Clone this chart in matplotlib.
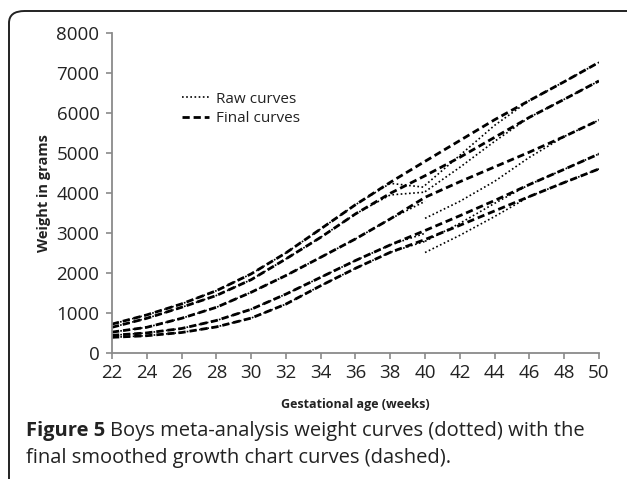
import matplotlib
matplotlib.use("Agg")
import matplotlib.pyplot as plt
from matplotlib.patches import FancyBboxPatch

# gestational age (weeks)
weeks = [22, 24, 26, 28, 30, 32, 34, 36, 38, 40, 42, 44, 46, 48, 50]

# final smoothed curves (dashed), grams
final_p97 = [730, 960, 1235, 1565, 1985, 2510, 3110, 3715, 4275, 4800, 5320, 5840, 6320, 6790, 7275]
final_p90 = [650, 875, 1150, 1445, 1840, 2360, 2900, 3485, 4000, 4440, 4900, 5400, 5900, 6350, 6810]
final_p50 = [530, 650, 875, 1150, 1525, 1945, 2400, 2860, 3360, 3900, 4290, 4660, 5030, 5420, 5830]
final_p10 = [450, 510, 620, 820, 1100, 1480, 1900, 2320, 2710, 3070, 3440, 3820, 4220, 4600, 4985]
final_p3 = [400, 440, 520, 660, 880, 1230, 1690, 2125, 2525, 2845, 3200, 3560, 3920, 4270, 4610]

# raw meta-analysis curves (dotted), preterm part
raw_pre_weeks = [22, 24, 26, 28, 30, 32, 34, 36, 38, 40]
raw_pre_p97 = [730, 960, 1235, 1565, 1985, 2510, 3110, 3715, 4250, 4150]
raw_pre_p90 = [650, 875, 1150, 1445, 1840, 2360, 2900, 3485, 3960, 4030]
raw_pre_p50 = [530, 650, 875, 1150, 1525, 1945, 2400, 2860, 3360, 3800]
raw_pre_p10 = [450, 510, 620, 820, 1100, 1480, 1900, 2320, 2710, 3000]
raw_pre_p3 = [400, 440, 520, 660, 880, 1230, 1690, 2125, 2525, 2800]

# raw curves after term
raw_post_weeks = [40, 42, 44, 46, 48, 50]
raw_post_p97 = [4200, 4950, 5700, 6320, 6790, 7275]
raw_post_p90 = [4040, 4650, 5300, 5900, 6350, 6810]
raw_post_p50 = [3375, 3800, 4300, 4900, 5420, 5830]
raw_post_p10 = [2800, 3250, 3750, 4220, 4600, 4985]
raw_post_p3 = [2520, 2950, 3420, 3920, 4270, 4610]

fig = plt.figure(figsize=(6.27, 4.79), dpi=100)
ax = fig.add_axes([0.1786, 0.2624, 0.7767, 0.668])

dash_kw = dict(color="black", lw=2.0, dashes=(2.6, 1.4))
dot_kw = dict(color="black", lw=1.2, dashes=(1, 1.5))

for r in [raw_pre_p97, raw_pre_p90, raw_pre_p50, raw_pre_p10, raw_pre_p3]:
    ax.plot(raw_pre_weeks, r, **dot_kw)
for r in [raw_post_p97, raw_post_p90, raw_post_p50, raw_post_p10, raw_post_p3]:
    ax.plot(raw_post_weeks, r, **dot_kw)
for f in [final_p97, final_p90, final_p50, final_p10, final_p3]:
    ax.plot(weeks, f, **dash_kw)

# legend proxies
ax.plot([], [], label="Raw curves", **dot_kw)
ax.plot([], [], label="Final curves", **dash_kw)
leg = ax.legend(handles=ax.lines[-2:], loc="upper left", bbox_to_anchor=(0.144, 0.818),
                frameon=False, borderpad=0, borderaxespad=0, handlelength=1.75,
                handletextpad=0.45, labelspacing=0.28, prop={"family": "Open Sans", "size": 11})
for t in leg.get_texts():
    t.set_color("#222222")

ax.set_xlim(22, 50)
ax.set_ylim(0, 8000)
ax.set_xticks(range(22, 51, 2))
ax.set_yticks(range(0, 8001, 1000))
for s in ["top", "right"]:
    ax.spines[s].set_visible(False)
for s in ["left", "bottom"]:
    ax.spines[s].set_color("#8a8a8a")
    ax.spines[s].set_linewidth(1.3)
ax.tick_params(colors="#8a8a8a", length=4, width=1.2, labelcolor="#222222", labelsize=13.5)
for lbl in ax.get_xticklabels() + ax.get_yticklabels():
    lbl.set_family("Open Sans")
ax.tick_params(axis="y", pad=5)
ax.tick_params(axis="x", pad=4)

ax.set_ylabel("Weight in grams", fontfamily="Open Sans", fontweight="bold", fontsize=10.5,
              color="#222222", labelpad=4)
ax.set_xlabel("Gestational age (weeks)", fontfamily="Open Sans", fontweight="bold", fontsize=9,
              color="#222222", labelpad=11)

# caption
cap_size = 14.5
t1 = fig.text(26 / 627, 1 - 431 / 479, "Figure 5", fontfamily="Open Sans", fontweight="bold",
              fontsize=cap_size, va="center", color="#222222")
fig.canvas.draw()
bb = t1.get_window_extent()
fig.text((bb.x1 + 5) / 627, 1 - 431 / 479, "Boys meta-analysis weight curves (dotted) with the",
         fontfamily="Open Sans", fontsize=cap_size, va="center", color="#222222")
fig.text(26 / 627, 1 - 458 / 479, "final smoothed growth chart curves (dashed).",
         fontfamily="Open Sans", fontsize=cap_size, va="center", color="#222222")

# rounded frame around the figure panel, running off the right and bottom edges
top = 1 - 11 / 479
frame = FancyBboxPatch((9 / 627, -0.2), 1.3, top + 0.2,
                       boxstyle="round,pad=0,rounding_size=0.025", transform=fig.transFigure,
                       fill=False, edgecolor="#222222", lw=1.4)
fig.patches.append(frame)

fig.savefig("out.png", dpi=100)
